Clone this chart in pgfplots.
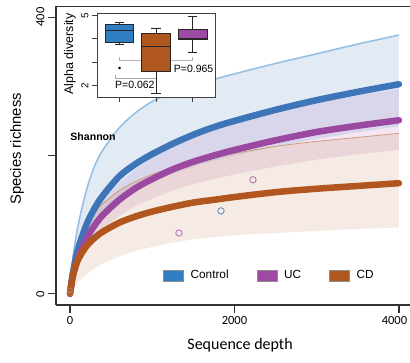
\documentclass[border=0pt]{standalone}
\usepackage{fontspec}
\setmainfont{Liberation Sans}
\newfontfamily\calibri{Carlito}
\usepackage{pgfplots}
\usepackage{pgfplotstable}
\pgfplotsset{compat=1.18}
\usepgfplotslibrary{statistics}

\definecolor{ctrl}{RGB}{62,116,184}
\definecolor{ucc}{RGB}{155,72,160}
\definecolor{cdc}{RGB}{177,86,31}
\definecolor{ctrlbox}{RGB}{47,126,193}
\definecolor{ucbox}{RGB}{158,74,165}
\definecolor{cdbox}{RGB}{176,86,31}
\definecolor{bandedge}{RGB}{150,192,228}

\pgfplotstableread{
x C CU P B BU
0 0 0 0 0 0
25 22 40 20 20 29
50 40 65 33 33 47.9
100 66 100 52 50 72.5
200 100 150 80 69 100.1
300 124 185 99 81 117.5
400 142 208 114 90 130.5
600 170 240 136 103 149.4
800 188 262 153 112 162.4
1000 202 278 166 119 172.6
1250 217 292 180 126 182.7
1500 230 302 191 132 191.4
1750 241 310 200 136 197.2
2000 250 318 208 140 203
2500 266 333 222 147 213.2
3000 280 347 234 152 220.4
3500 292 361 243 156 226.2
4000 303 374 251 160 232
}\rare

% band outlines: upper bound forward, lower bound backward
\pgfplotstableread{
x y
0 0
25 40
50 65
100 100
200 150
300 185
400 208
600 240
800 262
1000 278
1250 292
1500 302
1750 310
2000 318
2500 333
3000 347
3500 361
4000 374
4000 242.4
3500 233.6
3000 224
2500 212.8
2000 200
1750 192.8
1500 184
1250 173.6
1000 161.6
800 150.4
600 136
400 113.6
300 99.2
200 80
100 52.8
50 32
25 17.6
}\ctrlband

\pgfplotstableread{
x y
0 0
25 23.6
50 38.9
100 61.4
200 94.4
300 116.8
400 134.5
600 160.5
800 180.5
1000 195.9
1250 212.4
1500 225.4
1750 236
2000 245.4
2500 262
3000 276.1
3500 286.7
4000 296.2
4000 208.3
3500 201.7
3000 194.2
2500 184.3
2000 172.6
1750 166
1500 158.5
1250 149.4
1000 137.8
800 127
600 112.9
400 94.6
300 82.2
200 66.4
100 43.2
50 27.4
25 16.6
}\ucband

\pgfplotstableread{
x y
0 0
25 29
50 47.9
100 72.5
200 100.1
300 117.5
400 130.5
600 149.4
800 162.4
1000 172.6
1250 182.7
1500 191.4
1750 197.2
2000 203
2500 213.2
3000 220.4
3500 226.2
4000 232
4000 96
3500 94
3000 91
2500 88
2000 85
1750 82
1500 79
1250 74
1000 68
800 62
600 54
400 44
300 37
200 28
100 18
50 10
25 5
}\cdband

\begin{document}
\begin{tikzpicture}
\path[use as bounding box] (-56pt,-57pt) rectangle (354pt,305pt);
\begin{axis}[
  at={(0pt,0pt)}, anchor=south west, scale only axis,
  width=354pt, height=299pt,
  xmin=-170, xmax=4134, ymin=-16, ymax=416,
  axis x line*=bottom, axis y line*=left,
  axis line style={line width=1.1pt, black!80},
  xtick={0,2000,4000}, xticklabels={0,2000,{\hspace*{-9pt}4000}},
  ytick={0,200,400}, yticklabels={0,,400},
  tick align=outside, major tick length=8pt,
  tick style={line width=1.1pt, black!80},
  /pgf/number format/assume math mode=true,
  xticklabel style={font=\calibri\fontsize{12.5}{13}\selectfont},
  yticklabel style={font=\calibri\fontsize{12.5}{13}\selectfont, rotate=90, anchor=south},
  xlabel={Sequence depth},
  xlabel style={font=\calibri\fontsize{16}{16}\selectfont, at={(axis description cs:0.52,-0.136)}, anchor=center},
  ylabel={Species richness},
  ylabel style={font=\fontsize{14.8}{15}\selectfont, at={(axis description cs:-0.110,0.522)}, anchor=center},
  legend style={draw=none, fill=none, at={(rel axis cs:0.302,0.099)}, anchor=west,
    font=\fontsize{11.8}{12}\selectfont, inner sep=0pt,
    /tikz/every odd column/.append style={column sep=5pt},
    /tikz/every even column/.append style={column sep=26pt}},
  legend columns=3, legend cell align=left,
]
% bands
\addplot[fill=ctrl, fill opacity=0.15, draw=none, forget plot] table[x=x,y=y]{\ctrlband};
\addplot[fill=ucc, fill opacity=0.13, draw=none, forget plot] table[x=x,y=y]{\ucband};
\addplot[fill=cdc, fill opacity=0.12, draw=none, forget plot] table[x=x,y=y]{\cdband};
% band edges
\addplot[bandedge, line width=1.6pt, smooth, forget plot] table[x=x,y=CU]{\rare};
\addplot[cdc!60, line width=0.8pt, smooth, forget plot] table[x=x,y=BU]{\rare};
% main curves
\addplot[ctrl, line width=6.5pt, line cap=round, smooth,
  legend image code/.code={\draw[fill=ctrlbox, draw=black!45, line width=0.5pt] (0pt,-5.5pt) rectangle (20pt,5.5pt);}]
  table[x=x,y=C]{\rare};
\addlegendentry{Control}
\addplot[ucc, line width=6.5pt, line cap=round, smooth,
  legend image code/.code={\draw[fill=ucbox, draw=black!45, line width=0.5pt] (0pt,-5.5pt) rectangle (20pt,5.5pt);}]
  table[x=x,y=P]{\rare};
\addlegendentry{UC}
\addplot[cdc, line width=6.5pt, line cap=round, smooth,
  legend image code/.code={\draw[fill=cdbox, draw=black!45, line width=0.5pt] (0pt,-5.5pt) rectangle (20pt,5.5pt);}]
  table[x=x,y=B]{\rare};
\addlegendentry{CD}
% single samples
\addplot[only marks, mark=o, mark size=3.2pt, ucc!80, line width=0.8pt, forget plot] coordinates {(2225,165) (1325,88)};
\addplot[only marks, mark=o, mark size=3.2pt, ctrl!85, line width=0.8pt, forget plot] coordinates {(1836,120)};
\addplot[only marks, mark=o, mark size=2.4pt, cdc!80, line width=0.8pt, forget plot] coordinates {(0,0) (0,5)};
\node[font=\bfseries\fontsize{10.6}{11}\selectfont] at (axis cs:280,227) {Shannon};
\draw[line width=1.1pt, black!80] (rel axis cs:0,1) -- (rel axis cs:1,1);
\end{axis}

\begin{axis}[
  at={(41pt,208pt)}, anchor=south west, scale only axis,
  width=118pt, height=84pt,
  xmin=0.384, xmax=3.616, ymin=1.5, ymax=5.1,
  axis background/.style={fill=white},
  axis line style={black!75, line width=0.8pt},
  xtick={1,2,3}, xticklabels={}, ytick={2,3,4,5}, yticklabels={2,,,5},
  xtick pos=bottom, ytick pos=left,
  tick align=outside, major tick length=5pt,
  tick style={black!75, line width=0.8pt},
  /pgf/number format/assume math mode=true,
  yticklabel style={font=\fontsize{10}{10}\selectfont, rotate=90, anchor=south},
  ylabel={Alpha diversity},
  ylabel style={font=\fontsize{12.5}{13}\selectfont, at={(axis description cs:-0.229,0.512)}, anchor=center},
  boxplot/draw direction=y,
  clip=false,
]
\draw[black!30, line width=1.6pt] (axis cs:1,3.2) -- (axis cs:1,3.07) -- (axis cs:3,3.07) -- (axis cs:3,3.2);
\draw[black!35, line width=0.8pt] (axis cs:0.9,2.45) -- (axis cs:0.9,2.28) -- (axis cs:2,2.28) -- (axis cs:2,2.45);
\addplot[boxplot prepared={median=4.36, upper quartile=4.60, lower quartile=3.85,
  upper whisker=4.71, lower whisker=3.74, draw position=1, box extend=0.78, whisker extend=0.27},
  fill=ctrlbox, draw=black!85, line width=0.8pt] coordinates {};
\addplot[boxplot prepared={median=3.67, upper quartile=4.21, lower quartile=2.60,
  upper whisker=4.46, lower whisker=1.64, draw position=2, box extend=0.80, whisker extend=0.27},
  fill=cdbox, draw=black!85, line width=0.8pt] coordinates {};
\addplot[boxplot prepared={median=4.03, upper quartile=4.39, lower quartile=3.97,
  upper whisker=4.97, lower whisker=3.43, draw position=3, box extend=0.80, whisker extend=0.27},
  fill=ucbox, draw=black!85, line width=0.8pt] coordinates {};
\addplot[only marks, mark=*, mark size=1.1pt, black] coordinates {(1,2.74)};
\node[font=\fontsize{10.5}{11}\selectfont] at (axis cs:1.42,2.0) {P=0.062};
\node[font=\fontsize{10.5}{11}\selectfont] at (axis cs:3.03,2.72) {P=0.965};
\end{axis}
\end{tikzpicture}
\end{document}
